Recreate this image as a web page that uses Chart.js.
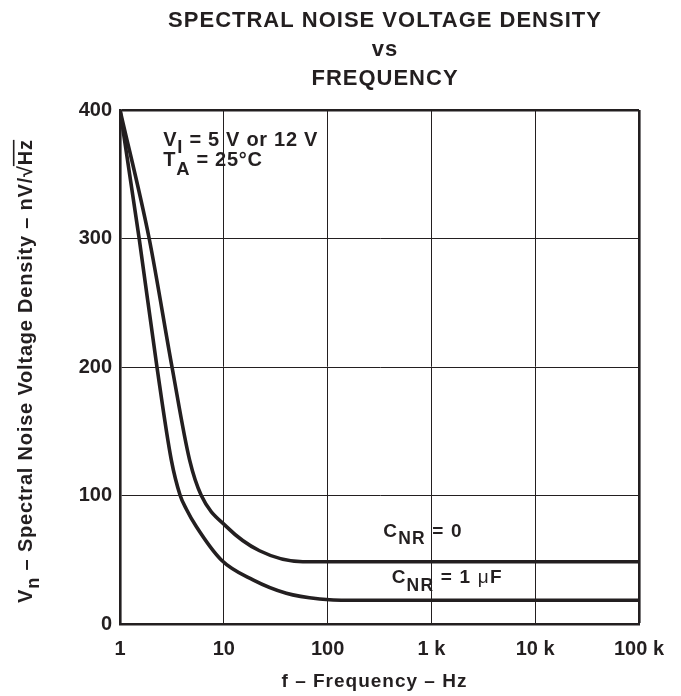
<!DOCTYPE html>
<html>
<head>
<meta charset="utf-8">
<script src="https://cdn.jsdelivr.net/npm/chart.js@4.4.1/dist/chart.umd.min.js"></script>
<style>
html,body{margin:0;padding:0;background:#fff;}
#wrap{width:681px;height:696px;position:relative;}
</style>
</head>
<body>
<div id="wrap"><canvas id="c"></canvas></div>
<script>
// ---- data ----
const freqCnr0      = [1, 1.91, 3.17, 4.68, 6.07, 10.6, 22.1, 57.7, 1000, 100000];
const noiseCnr0     = [400, 300, 200, 127.7, 100, 75.8, 57, 48.5, 48.5, 48.5];
const freqCnr1uF    = [1, 1.53, 2.27, 3.12, 3.8, 4.35, 5.43, 9.46, 19.1, 40, 84, 163, 1000, 100000];
const noiseCnr1uF   = [400, 300, 200, 127.7, 100, 89.5, 75.8, 49.8, 34.3, 23.9, 19.5, 18.5, 18.5, 18.5];
const xTickValues   = [1, 10, 100, 1000, 10000, 100000];
const xTickLabels   = ['1', '10', '100', '1 k', '10 k', '100 k'];
const yTickValues   = [0, 100, 200, 300, 400];
const titleLines    = ['SPECTRAL NOISE VOLTAGE DENSITY', 'vs', 'FREQUENCY'];

const INK = '#231f20';
const FONT = '"Liberation Sans", Arial, Helvetica, sans-serif';

function toPoints(xs, ys) { return xs.map((x, i) => ({x: x, y: ys[i]})); }

function richWidth(ctx, parts, size, spacing) {
  let w = 0;
  for (const p of parts) {
    const s = p.sub ? size * 0.92 : size;
    ctx.font = (p.weight || 'bold') + ' ' + s + 'px ' + FONT;
    ctx.letterSpacing = spacing + 'px';
    w += ctx.measureText(p.t).width;
  }
  return w;
}
function drawRich(ctx, parts, x, y, size, spacing) {
  let cx = x;
  for (const p of parts) {
    const s = p.sub ? size * 0.92 : size;
    ctx.font = (p.weight || 'bold') + ' ' + s + 'px ' + FONT;
    ctx.letterSpacing = spacing + 'px';
    const dy = p.sub ? (p.dy || 7.5) : 0;
    ctx.fillText(p.t, cx, y + dy);
    const w = ctx.measureText(p.t).width;
    if (p.over) {
      ctx.save();
      ctx.strokeStyle = INK;
      ctx.lineWidth = 1.6;
      ctx.beginPath();
      ctx.moveTo(cx - 1, y - size * 0.9);
      ctx.lineTo(cx + w - spacing, y - size * 0.9);
      ctx.stroke();
      ctx.restore();
    }
    cx += w;
  }
}

const textPlugin = {
  id: 'texts',
  afterDraw(chart) {
    const ctx = chart.ctx;
    ctx.save();
    ctx.fillStyle = INK;
    ctx.textBaseline = 'alphabetic';
    // title
    ctx.textAlign = 'center';
    ctx.font = 'bold 22px ' + FONT;
    ctx.letterSpacing = '1px';
    const tb = [26.7, 56, 85];
    titleLines.forEach((t, i) => ctx.fillText(t, 385, tb[i]));
    // x axis title
    ctx.font = 'bold 19px ' + FONT;
    ctx.letterSpacing = '1px';
    ctx.fillText('f – Frequency – Hz', 374.5, 686.7);
    ctx.textAlign = 'left';

    // y axis title (rotated)
    const yParts = [
      {t: 'V'}, {t: 'n', sub: true, dy: 7},
      {t: ' – Spectral Noise Voltage Density – nV/'},
      {t: '√'}, {t: 'Hz', over: true}
    ];
    ctx.save();
    ctx.translate(31.7, 371);
    ctx.rotate(-Math.PI / 2);
    const yw = richWidth(ctx, yParts, 20, 0.8);
    drawRich(ctx, yParts, -yw / 2, 0, 20, 0.8);
    ctx.restore();

    // conditions
    drawRich(ctx, [{t: 'V'}, {t: 'I', sub: true, dy: 7.3}, {t: ' = 5 V or 12 V'}], 163.3, 146, 20, 0.7);
    drawRich(ctx, [{t: 'T'}, {t: 'A', sub: true, dy: 8.5}, {t: ' = 25°C'}], 163.3, 166, 20, 0.7);
    // curve labels
    drawRich(ctx, [{t: 'C'}, {t: 'NR', sub: true, dy: 7.3}, {t: ' = 0'}], 383.3, 536.7, 19, 1.2);
    drawRich(ctx, [{t: 'C'}, {t: 'NR', sub: true, dy: 7.3}, {t: ' = 1 '}, {t: 'μ', weight: 'normal'}, {t: 'F'}], 391.7, 583.3, 19, 1.2);
    ctx.restore();
  }
};

new Chart(document.getElementById('c'), {
  type: 'line',
  data: {
    datasets: [
      {label: 'CNR = 0', data: toPoints(freqCnr0, noiseCnr0), borderColor: INK, borderWidth: 3.6,
       pointRadius: 0, fill: false, cubicInterpolationMode: 'monotone'},
      {label: 'CNR = 1 µF', data: toPoints(freqCnr1uF, noiseCnr1uF), borderColor: INK, borderWidth: 3.6,
       pointRadius: 0, fill: false, cubicInterpolationMode: 'monotone'}
    ]
  },
  options: {
    responsive: true,
    maintainAspectRatio: false,
    animation: false,
    layout: {padding: {top: 110, right: 42, left: 0, bottom: 0}},
    plugins: {legend: {display: false}, title: {display: false}, tooltip: {enabled: false}},
    scales: {
      x: {
        type: 'logarithmic', min: 1, max: 100000,
        afterBuildTicks: s => { s.ticks = xTickValues.map(v => ({value: v})); },
        afterFit: s => { s.height = 72; },
        ticks: {
          autoSkip: false, maxRotation: 0, padding: 13, color: INK,
          font: {family: FONT, size: 20, weight: 'bold'},
          callback: v => { const i = xTickValues.indexOf(v); return i >= 0 ? xTickLabels[i] : ''; }
        },
        grid: {color: INK, drawTicks: false, lineWidth: c => (c.tick && c.tick.value === 100000) ? 2.6 : 1},
        border: {color: INK, width: 2.6}
      },
      y: {
        type: 'linear', min: 0, max: 400,
        afterBuildTicks: s => { s.ticks = yTickValues.map(v => ({value: v})); },
        afterFit: s => { s.width = 120; },
        ticks: {padding: 8, color: INK, font: {family: FONT, size: 20, weight: 'bold'}},
        grid: {color: INK, drawTicks: false, lineWidth: c => (c.tick && c.tick.value === 400) ? 2.6 : 1},
        border: {color: INK, width: 2.6}
      }
    }
  },
  plugins: [textPlugin]
});
</script>
</body>
</html>
